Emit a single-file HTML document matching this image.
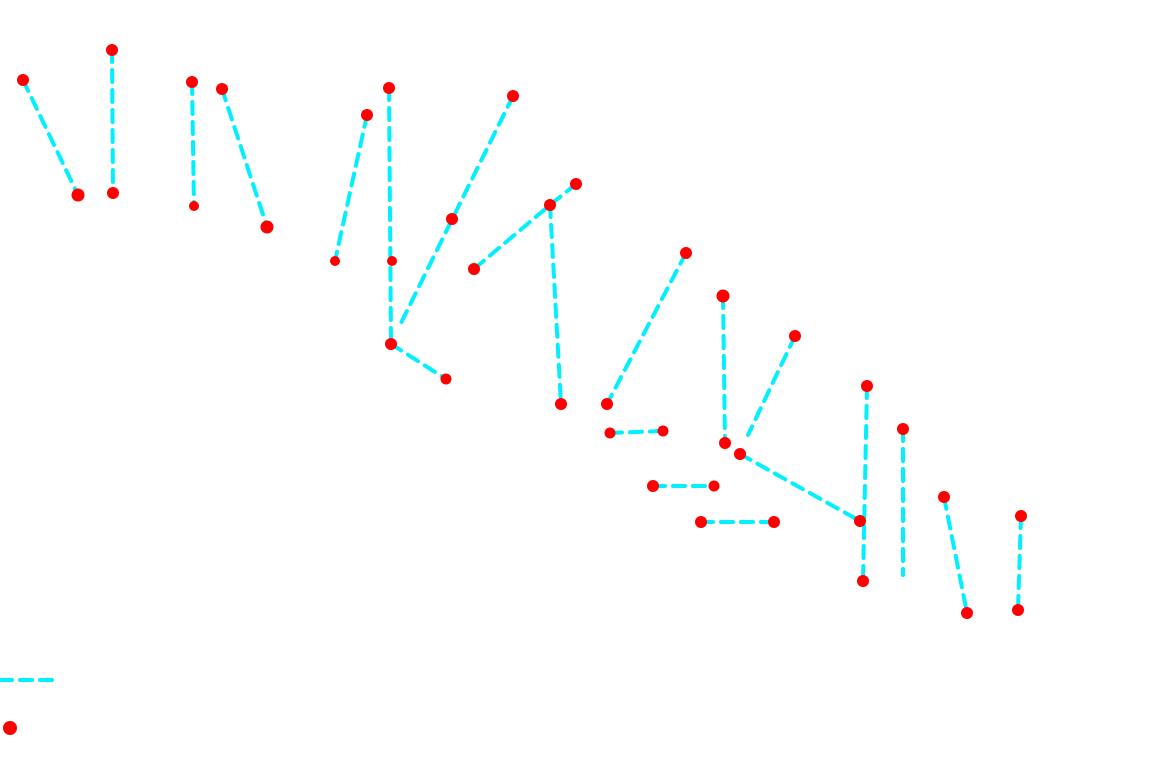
<!DOCTYPE html>
<html><head><meta charset="utf-8"><style>
html,body{margin:0;padding:0;background:#fff;width:1170px;height:757px;overflow:hidden}
</style></head><body>
<svg width="1170" height="757" xmlns="http://www.w3.org/2000/svg">
<g stroke="#00f0ff" stroke-width="4" stroke-dasharray="12 8" fill="none" stroke-linecap="round">
<line x1="23" y1="80" x2="78" y2="195"/>
<line x1="112" y1="50" x2="113" y2="193"/>
<line x1="192" y1="82" x2="194" y2="206"/>
<line x1="222" y1="89" x2="267" y2="227"/>
<line x1="367" y1="115" x2="335" y2="261"/>
<line x1="389" y1="88" x2="391" y2="344"/>
<line x1="513" y1="96" x2="400" y2="325"/>
<line x1="391" y1="344" x2="446" y2="379"/>
<polyline points="576,184 550,205 474,269"/>
<line x1="550" y1="205" x2="561" y2="404"/>
<line x1="686" y1="253" x2="607" y2="404"/>
<line x1="610" y1="433" x2="663" y2="431"/>
<line x1="723" y1="296" x2="725" y2="443"/>
<line x1="795" y1="336" x2="748" y2="435"/>
<line x1="740" y1="454" x2="860" y2="521"/>
<line x1="867" y1="386" x2="863" y2="581"/>
<line x1="903" y1="429" x2="903" y2="575"/>
<line x1="944" y1="497" x2="967" y2="613"/>
<line x1="1021" y1="516" x2="1018" y2="610"/>
<line x1="653" y1="486" x2="714" y2="486"/>
<line x1="701" y1="522" x2="774" y2="522"/>
<line x1="0" y1="680" x2="56" y2="680"/>
</g>
<g fill="#ff0000">
<circle cx="23" cy="80" r="6"/><circle cx="78" cy="195" r="6.5"/>
<circle cx="112" cy="50" r="6"/><circle cx="113" cy="193" r="6"/>
<circle cx="192" cy="82" r="6"/><circle cx="194" cy="206" r="5"/>
<circle cx="222" cy="89" r="6"/><circle cx="267" cy="227" r="6.5"/>
<circle cx="367" cy="115" r="6"/><circle cx="335" cy="261" r="5"/>
<circle cx="389" cy="88" r="6"/><circle cx="392" cy="261" r="5"/>
<circle cx="391" cy="344" r="6"/><circle cx="446" cy="379" r="5.5"/>
<circle cx="513" cy="96" r="6"/><circle cx="452" cy="219" r="6"/>
<circle cx="576" cy="184" r="6"/><circle cx="550" cy="205" r="6"/>
<circle cx="474" cy="269" r="6"/><circle cx="561" cy="404" r="6"/>
<circle cx="686" cy="253" r="6"/><circle cx="607" cy="404" r="6"/>
<circle cx="610" cy="433" r="5.5"/><circle cx="663" cy="431" r="5.5"/>
<circle cx="723" cy="296" r="6.5"/><circle cx="725" cy="443" r="6"/>
<circle cx="795" cy="336" r="6"/><circle cx="740" cy="454" r="6"/>
<circle cx="860" cy="521" r="6"/><circle cx="867" cy="386" r="6"/>
<circle cx="863" cy="581" r="6"/><circle cx="903" cy="429" r="6"/>
<circle cx="944" cy="497" r="6"/><circle cx="967" cy="613" r="6"/>
<circle cx="1021" cy="516" r="6"/><circle cx="1018" cy="610" r="6"/>
<circle cx="653" cy="486" r="6"/><circle cx="714" cy="486" r="5.5"/>
<circle cx="701" cy="522" r="6"/><circle cx="774" cy="522" r="6"/>
<circle cx="10" cy="728" r="7"/>
</g>
</svg>
</body></html>
